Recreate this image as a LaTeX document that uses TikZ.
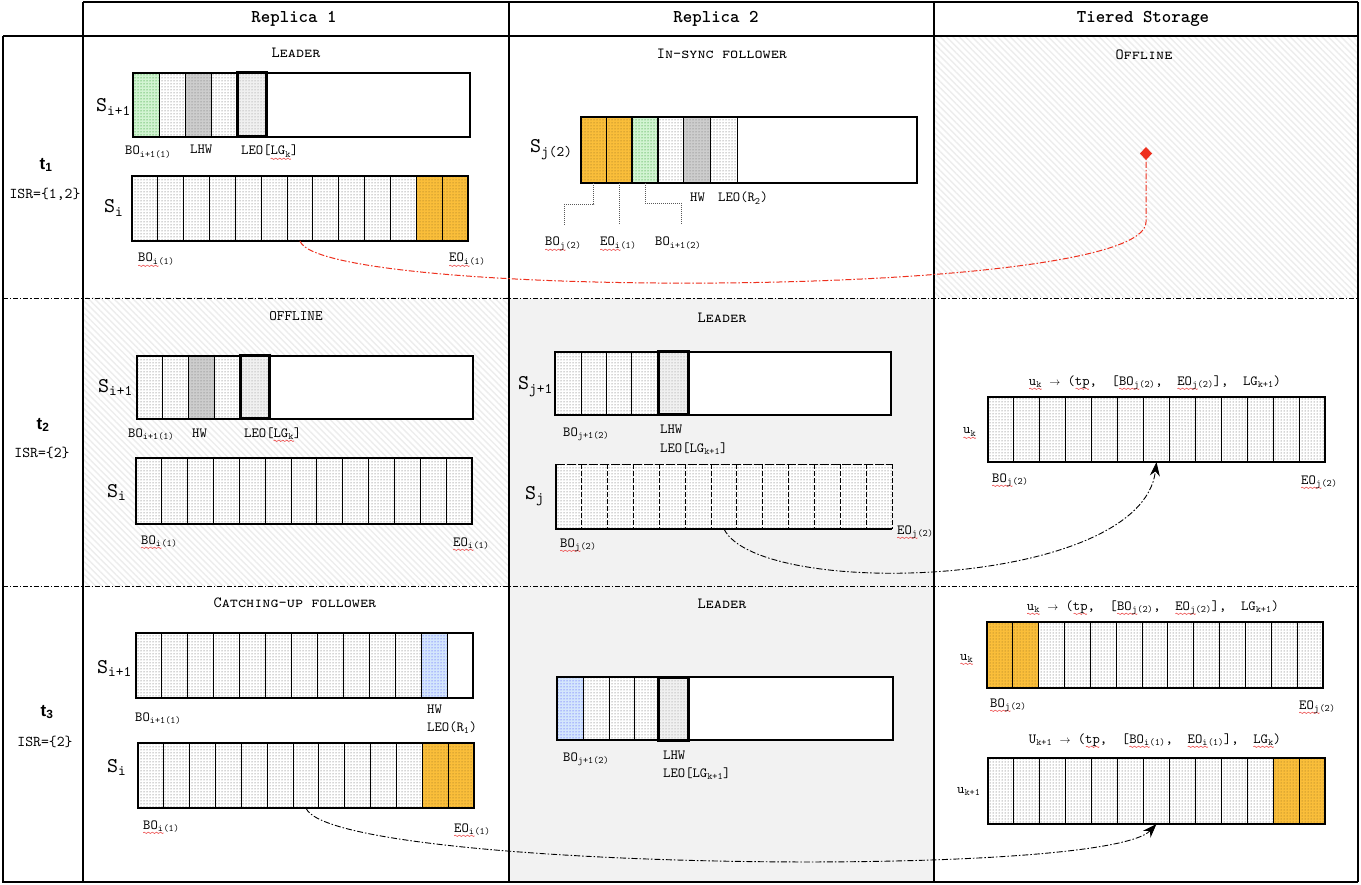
\documentclass[tikz,border=0pt]{standalone}
\usepackage{fontspec}
\usetikzlibrary{patterns,patterns.meta,arrows.meta}
\newfontfamily\lmono{lmmono10-regular.otf}[BoldFont=lmmonolt10-bold.otf]
\newfontfamily\scmono{lmmonocaps10-regular.otf}
\newfontfamily\tsans{Liberation Sans}
\definecolor{orangeC}{RGB}{250,190,58}
\definecolor{greenC}{RGB}{210,244,210}
\definecolor{grayC}{RGB}{205,205,205}
\definecolor{blueC}{RGB}{212,230,252}
\definecolor{redC}{RGB}{238,48,30}
\definecolor{bgC}{RGB}{242,242,242}
\newsavebox\wavytmp
\newcommand\waveseg{\hbox to 4pt{\special{pdf:content 0.93 0.3 0.3 RG 0.6 w 0 0 m 0.5 0.9 1.5 0.9 2 0 c 2.5 -0.9 3.5 -0.9 4 0 c S}\hfil}}
\newcommand\wavy[1]{\sbox\wavytmp{#1}\rlap{\lower3.8pt\hbox to\wd\wavytmp{\xleaders\waveseg\hfill}}\usebox\wavytmp}
\newcommand\sbs[1]{\textsubscript{#1}}
\newcommand\arr{{\fontsize{11}{11}\selectfont$\rightarrow$}}
% cell node: name, xa, xb, ya, yb, style
\newcommand\cellat[6]{%
  \pgfmathsetmacro\cellw{#3-#2}\pgfmathsetmacro\cellh{#5-#4}%
  \edef\doit{\noexpand\node[#6,minimum width=\cellw pt,minimum height=\cellh pt] (#1) at (#2,#4) {};}\doit}
% uniform row: name, x0, y0, x1, y1, n, default style, overrides, frame style
\newcommand\segrow[9]{%
  \fill[white] (#2,#3) rectangle (#4,#5);
  \pgfmathsetmacro\segw{(#4-#2)/#6}%
  \foreach \k in {1,...,#6}{%
    \gdef\cst{#7}%
    \foreach \cellj/\cellst in {#8}{\ifnum\cellj=\k\relax\xdef\cst{\cellst}\fi}%
    \pgfmathsetmacro\cxa{#2+(\k-1)*\segw}%
    \pgfmathsetmacro\cxb{#2+\k*\segw}%
    \cellat{#1-\k}{\cxa}{\cxb}{#3}{#5}{\cst}%
  }%
  \cellat{#1}{#2}{#4}{#3}{#5}{#9}%
}
% partial row: name, x0, y0, x1, y1, list xa/xb/style, frame style
\newcommand\partrow[7]{%
  \fill[white] (#2,#3) rectangle (#4,#5);
  \foreach \pa/\pb/\pst [count=\ci] in {#6}{\cellat{#1-\ci}{\pa}{\pb}{#3}{#5}{\pst}}%
  \cellat{#1}{#2}{#4}{#3}{#5}{#7}%
}
\begin{document}
\begin{tikzpicture}[x=1pt,y=-1pt,
 cellcore/.style={draw=black, line width=1pt, inner sep=0pt, outer sep=0pt, anchor=north west},
 dotcell/.style={cellcore, preaction={fill=white}, pattern=dots, pattern color=black!70},
 orangecell/.style={dotcell, preaction={fill=orangeC}, pattern color=orangeC!55!black},
 greencell/.style={dotcell, preaction={fill=greenC}, pattern color=green!50!black},
 greenthick/.style={greencell, line width=2.4pt},
 graycell/.style={dotcell, preaction={fill=grayC}, pattern color=black!60},
 bluecell/.style={dotcell, preaction={fill=blueC}, pattern color=blue!80},
 leocell/.style={dotcell, preaction={fill=gray!12}, pattern color=black!50, line width=3pt},
 whitecell/.style={cellcore, fill=white},
 dashcell/.style={dotcell, draw=none},
 dashdiv/.style={draw=black, line width=1pt, dash pattern=on 4.5pt off 2.5pt},
 dashtop/.style={draw=black, line width=1pt, dash pattern=on 9pt off 2pt},
 solidedge/.style={draw=black, line width=1.2pt},
 frame/.style={draw=black, line width=2.4pt, inner sep=0pt, outer sep=0pt, anchor=north west},
 openframe/.style={frame, draw=none},
 gridline/.style={draw=black, line width=1.2pt},
 rowsep/.style={draw=black, line width=0.9pt, dash pattern=on 5pt off 2pt on 1.2pt off 2pt},
 hatchbg/.style={pattern={Lines[angle=-45,distance=4.5pt,line width=1.4pt]}, pattern color=gray!14},
 graybg/.style={fill=bgC},
 lbl/.style={font=\lmono\fontsize{14}{14}\selectfont, inner sep=0pt, anchor=base west},
 formula/.style={lbl, anchor=base},
 slbl/.style={font=\lmono\fontsize{21}{21}\selectfont, inner sep=0pt, anchor=base west},
 ttl/.style={font=\scmono\fontsize{15.5}{16}\selectfont, inner sep=0pt, anchor=center},
 plainttl/.style={font=\lmono\fontsize{14.5}{15}\selectfont, inner sep=0pt, anchor=center},
 hdr/.style={font=\lmono\bfseries\fontsize{18}{18}\selectfont, inner sep=0pt},
 tlbl/.style={font=\tsans\bfseries\fontsize{17}{17}\selectfont, inner sep=0pt},
 isr/.style={font=\lmono\fontsize{15}{15}\selectfont, inner sep=0pt},
 leader/.style={draw=black!65, line width=0.8pt, dash pattern=on 1pt off 1pt},
 redarrow/.style={draw=redC, line width=1pt, dash pattern=on 6pt off 2pt on 1.5pt off 2pt, -{Diamond[length=13pt,width=12pt,fill=redC]}},
 blkarrow/.style={draw=black, line width=0.9pt, dash pattern=on 6pt off 2pt on 1.5pt off 2pt, -{Stealth[length=14pt,width=10pt]}},
]
\useasboundingbox (0,0) rectangle (1361,885);
\fill[white] (0,0) rectangle (1361,885);
% backgrounds
\fill[hatchbg] (934,36) rectangle (1358,298);
\fill[hatchbg] (83,298) rectangle (509,586);
\fill[graybg] (509,298) rectangle (934,882);
% grid
\draw[gridline] (83,2) -- (1358,2);
\draw[gridline] (3,36) -- (1358,36);
\draw[gridline] (3,36) -- (3,882) -- (1358,882);
\draw[gridline] (83,2) -- (83,882);
\draw[gridline] (509,2) -- (509,882);
\draw[gridline] (934,2) -- (934,882);
\draw[gridline] (1358,2) -- (1358,882);
\draw[rowsep] (3,298) -- (1358,298);
\draw[rowsep] (3,586) -- (1358,586);
% headers
\node[hdr] (h1) at (294,19) {Replica 1};
\node[hdr] (h2) at (716,19) {Replica 2};
\node[hdr] (h3) at (1143,19) {Tiered Storage};
\node[tlbl] (t1) at (46,165) {t\sbs{1}};
\node[isr] (i1) at (45,194) {ISR=\{1,2\}};
\node[tlbl] (t2) at (43,425) {t\sbs{2}};
\node[isr] (i2) at (42,453) {ISR=\{2\}};
\node[tlbl] (t3) at (47,712) {t\sbs{3}};
\node[isr] (i3) at (45,742) {ISR=\{2\}};
% ---------- t1 ----------
\partrow{aA}{133}{73}{470}{137}{133/159/greencell,159/185/dotcell,185/211/graycell,211/237/dotcell,237/266/leocell}{frame}
\segrow{aB}{132}{176}{468}{241}{13}{dotcell}{12/orangecell,13/orangecell}{frame}
\partrow{bA}{581}{117}{917}{183}{581/606/orangecell,606/632/orangecell,632/658/greenthick,658/683/dotcell,683/710/graycell,710/737/dotcell}{frame}
\node[ttl] (tt1) at (296,53) {Leader};
\node[slbl] (s1) at (96,112) {S\sbs{i+1}};
\node[slbl] (s2) at (104,213) {S\sbs{i}};
\node[lbl] (l1) at (125,155) {BO\sbs{i+1(1)}};
\node[lbl] (l2) at (190,154) {LHW};
\node[lbl] (l3) at (241,155) {LEO[\wavy{LG\sbs{k}}]};
\node[lbl] (l4) at (138,262) {\wavy{BO\sbs{i}}\sbs{(1)}};
\node[lbl] (l5) at (449,262) {\wavy{EO\sbs{i}}\sbs{(1)}};
\node[ttl] (tt2) at (722,54) {In-sync follower};
\node[slbl] (s3) at (530,153) {S\sbs{j(2)}};
\node[lbl] (l6) at (690,202) {HW};
\node[lbl] (l7) at (718,202) {LEO(R\sbs{2})};
\node[lbl] (l8) at (545,246) {\wavy{BO\sbs{j}}\sbs{(2)}};
\node[lbl] (l9) at (600,246) {\wavy{EO\sbs{i}}\sbs{(1)}};
\node[lbl] (l10) at (655,246) {BO\sbs{i+1(2)}};
\draw[leader] (bA-1.south) |- ++(-29,21) -- ++(0,22);
\draw[leader] (bA-2.south) -- ++(0,42);
\draw[leader] (bA-3.south) |- ++(36,20) -- ++(0,22);
\node[ttl] (tt3) at (1144,55) {Offline};
% ---------- t2 ----------
\partrow{cA}{137}{356}{473}{419}{137/162/dotcell,162/188/dotcell,188/214/graycell,214/240/dotcell,240/269/leocell}{frame}
\segrow{cB}{136}{458}{472}{524}{13}{dotcell}{0/dotcell}{frame}
\node[plainttl] (tt4) at (296,316) {OFFLINE};
\node[slbl] (s4) at (98,392) {S\sbs{i+1}};
\node[slbl] (s5) at (107,497) {S\sbs{i}};
\node[lbl] (l11) at (128,437) {BO\sbs{i+1(1)}};
\node[lbl] (l12) at (192,437) {HW};
\node[lbl] (l13) at (244,437) {LEO[\wavy{LG\sbs{k}}]};
\node[lbl] (l14) at (141,544) {\wavy{BO\sbs{i}}\sbs{(1)}};
\node[lbl] (l15) at (453,546) {\wavy{EO\sbs{i}}\sbs{(1)}};
\partrow{dA}{555}{352}{891}{415}{555/581/dotcell,581/606/dotcell,606/631/dotcell,631/658/dotcell,658/688/leocell}{frame}
\segrow{dB}{556}{464}{892}{529}{13}{dashcell}{0/dashcell}{openframe}
\foreach \k in {1,...,12}{\draw[dashdiv] (dB-\k.north east) -- (dB-\k.south east);}
\draw[dashtop] (dB.north west) -- (dB.north east);
\draw[dashdiv] (dB.north east) -- (dB.south east);
\draw[solidedge] (dB.north west) -- (dB.south west) -- (dB.south east);
\node[ttl] (tt5) at (722,318) {Leader};
\node[slbl] (s6) at (518,390) {S\sbs{j+1}};
\node[slbl] (s7) at (525,499) {S\sbs{j}};
\node[lbl] (l16) at (563,436) {BO\sbs{j+1(2)}};
\node[lbl] (l17) at (660,434) {LHW};
\node[lbl] (l18) at (660,452) {LEO[LG\sbs{k+1}]};
\node[lbl] (l19) at (560,547) {\wavy{BO\sbs{j}}\sbs{(2)}};
\node[lbl] (l20) at (897,534) {\wavy{EO\sbs{j}}\sbs{(2)}};
\segrow{eA}{988}{397}{1325}{462}{13}{dotcell}{0/dotcell}{frame}
\node[formula] (f1) at (1155,385) {\wavy{u\sbs{k}}~\arr~(\wavy{tp},~~[\wavy{BO\sbs{j}}\sbs{(2)},~~\wavy{EO\sbs{j}}\sbs{(2)}],~~LG\sbs{k+1})};
\node[lbl] (l21) at (963,434) {\wavy{u\sbs{k}}};
\node[lbl] (l22) at (992,482) {\wavy{BO\sbs{j}}\sbs{(2)}};
\node[lbl] (l23) at (1301,484) {\wavy{EO\sbs{j}}\sbs{(2)}};
% ---------- t3 ----------
\segrow{fA}{136}{633}{473}{698}{13}{dotcell}{12/bluecell,13/whitecell}{frame}
\segrow{fB}{138}{743}{474}{808}{13}{dotcell}{12/orangecell,13/orangecell}{frame}
\node[ttl] (tt6) at (295,603) {Catching-up follower};
\node[slbl] (s8) at (97,673) {S\sbs{i+1}};
\node[slbl] (s9) at (107,772) {S\sbs{i}};
\node[lbl] (l24) at (135,721) {BO\sbs{i+1(1)}};
\node[lbl] (l25) at (427,713) {HW};
\node[lbl] (l26) at (427,731) {LEO(R\sbs{1})};
\node[lbl] (l27) at (143,829) {\wavy{BO\sbs{i}}\sbs{(1)}};
\node[lbl] (l28) at (454,832) {\wavy{EO\sbs{i}}\sbs{(1)}};
\partrow{gA}{557}{677}{893}{740}{557/583/bluecell,583/609/dotcell,609/634/dotcell,634/658/dotcell,658/688/leocell}{frame}
\node[ttl] (tt7) at (722,604) {Leader};
\node[lbl] (l29) at (563,761) {BO\sbs{j+1(2)}};
\node[lbl] (l30) at (663,759) {LHW};
\node[lbl] (l31) at (663,777) {LEO[LG\sbs{k+1}]};
\segrow{hA}{987}{622}{1323}{688}{13}{dotcell}{1/orangecell,2/orangecell}{frame}
\segrow{hB}{988}{758}{1325}{824}{13}{dotcell}{12/orangecell,13/orangecell}{frame}
\node[formula] (f2) at (1153,610) {\wavy{u\sbs{k}}~\arr~(\wavy{tp},~~[\wavy{BO\sbs{j}}\sbs{(2)},~~\wavy{EO\sbs{j}}\sbs{(2)}],~~LG\sbs{k+1})};
\node[lbl] (l32) at (960,660) {\wavy{u\sbs{k}}};
\node[lbl] (l33) at (990,707) {\wavy{BO\sbs{j}}\sbs{(2)}};
\node[lbl] (l34) at (1299,709) {\wavy{EO\sbs{j}}\sbs{(2)}};
\node[formula] (f3) at (1155,743) {U\sbs{k+1}~\arr~(\wavy{tp},~~[\wavy{BO\sbs{i}}\sbs{(1)},~~\wavy{EO\sbs{i}}\sbs{(1)}],~~\wavy{LG\sbs{k}})};
\node[lbl] (l35) at (957,793) {u\sbs{k+1}};
% ---------- connectors ----------
\coordinate (offbend) at (1146,222);
\coordinate (offdot) at (1146,147);
\draw[redarrow] (aB-7.south) .. controls +(20,59) and +(0,78) .. (offbend) -- (offdot);
\draw[blkarrow] (dB-7.south) .. controls +(35,71) and +(-15,127) .. (eA-7.south);
\draw[blkarrow] (fB-7.south) .. controls +(24,62) and +(-53,56) .. (hB-7.south);
\end{tikzpicture}
\end{document}
